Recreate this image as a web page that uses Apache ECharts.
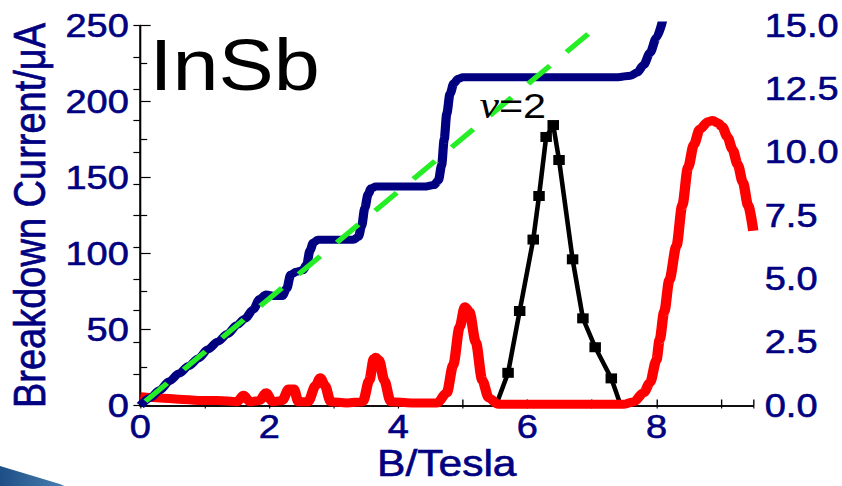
<!DOCTYPE html>
<html>
<head>
<meta charset="utf-8">
<script src="https://cdn.jsdelivr.net/npm/echarts@6/dist/echarts.min.js"></script>
<style>
  html, body { margin: 0; padding: 0; background: #fff; overflow: hidden; }
  #wrap { width: 842px; height: 486px; overflow: hidden; position: relative; }
  /* the figure is drawn on a narrower canvas and widened, giving the wide lettering */
  #chart { width: 732px; height: 486px; transform: scaleX(1.15); transform-origin: 0 0; }
</style>
</head>
<body>
<div id="wrap"><div id="chart"></div></div>
<script>
// Breakdown current (left axis, µA) against magnetic field B (T)
const blueB = [0, 0.15, 0.3, 0.45, 0.6, 0.75, 0.9, 1.05, 1.2, 1.35, 1.5, 1.62, 1.75, 1.85, 1.95, 2.1, 2.2, 2.27, 2.33, 2.42, 2.52, 2.58, 2.63, 2.68, 2.75, 2.9, 3.1, 3.3, 3.38, 3.43, 3.48, 3.53, 3.58, 3.65, 3.8, 4.0, 4.2, 4.4, 4.55, 4.62, 4.67, 4.71, 4.75, 4.8, 4.86, 4.93, 5.0, 5.2, 5.6, 6.0, 6.5, 7.0, 7.4, 7.6, 7.7, 7.8, 7.9, 8.0, 8.1];
const blueI = [0, 5, 10, 16, 21, 26, 31, 37, 42, 47, 53, 57, 63, 70, 73, 72, 72, 77, 86, 88, 89, 93, 102, 107, 109, 109, 109, 109, 111, 118, 130, 139, 143, 144, 144, 144, 144, 144, 145, 148, 158, 175, 192, 205, 212, 215, 216, 216, 216, 216, 216, 216, 216, 217, 219, 224, 232, 242, 254];

// Linear reference line (left axis)
const greenB = [0.08, 7.1];
const greenI = [2.8, 250];

// Longitudinal signal (right axis)
const redB = [0, 0.3, 0.6, 0.9, 1.2, 1.5, 1.6, 1.7, 1.85, 1.95, 2.05, 2.2, 2.3, 2.38, 2.45, 2.6, 2.72, 2.79, 2.86, 2.95, 3.2, 3.45, 3.55, 3.62, 3.65, 3.7, 3.78, 3.88, 4.2, 4.6, 4.75, 4.85, 4.95, 5.03, 5.1, 5.2, 5.3, 5.4, 5.55, 6.0, 6.5, 7.0, 7.5, 7.65, 7.8, 7.9, 8.0, 8.05, 8.12, 8.2, 8.31, 8.4, 8.49, 8.58, 8.67, 8.8, 8.87, 8.95, 9.02, 9.1, 9.18, 9.26, 9.34, 9.42, 9.5];
const redV = [0.35, 0.3, 0.25, 0.2, 0.2, 0.15, 0.4, 0.15, 0.2, 0.5, 0.15, 0.2, 0.65, 0.65, 0.15, 0.15, 0.8, 1.1, 0.8, 0.15, 0.1, 0.15, 1.0, 1.85, 1.9, 1.8, 1.0, 0.15, 0.1, 0.1, 0.5, 1.6, 3.1, 3.9, 3.7, 2.5, 1.0, 0.3, 0.05, 0.05, 0.05, 0.05, 0.05, 0.15, 0.5, 0.9, 1.8, 2.6, 3.7, 4.95, 6.3, 7.9, 9.4, 10.3, 10.9, 11.2, 11.25, 11.15, 11.0, 10.6, 10.1, 9.5, 8.8, 7.9, 6.9];

// Measured points with square markers (right axis)
const blackB = [5.52, 5.70, 5.88, 6.09, 6.18, 6.29, 6.40, 6.49, 6.70, 6.86, 7.05, 7.30, 7.44];
const blackV = [0.05, 1.29, 3.73, 6.55, 8.27, 10.6, 11.07, 9.69, 5.77, 3.44, 2.30, 1.07, 0.05];

const xTicks = ['0', '2', '4', '6', '8'];

const NAVY = '#000080';
const FONT = '"Liberation Sans", Arial, sans-serif';

const zip = (xs, ys) => xs.map((x, i) => [x, ys[i]]);

const chart = echarts.init(document.getElementById('chart'), null, { renderer: 'svg' });

const axisLine = { show: true, lineStyle: { color: '#000', width: 1.5 } };
const labelStyle = { fontSize: 33, color: NAVY, fontFamily: FONT, textBorderColor: NAVY, textBorderWidth: 0.6 };

chart.setOption({
  backgroundColor: '#fff',
  animation: false,
  grid: { left: 122, right: 77, top: 25.5, bottom: 80.5, containLabel: false, outerBoundsMode: 'none' },
  xAxis: [
    {
      type: 'value', position: 'bottom', min: 0, max: 9.5, interval: 1,
      axisLine: axisLine,
      axisTick: { show: true, inside: true, length: 6, lineStyle: { color: '#000', width: 1.2 } },
      splitLine: { show: false },
      axisLabel: Object.assign({
        margin: 5,
        formatter: v => (xTicks.includes(String(v)) ? String(v) : '')
      }, labelStyle),
      name: 'B/Tesla', nameLocation: 'middle', nameGap: 39, nameMoveOverlap: false,
      nameTextStyle: { fontSize: 37, lineHeight: 36, color: NAVY, fontFamily: FONT, textBorderColor: NAVY, textBorderWidth: 0.6 }
    },
    {
      type: 'value', position: 'top', min: 0, max: 9.5, interval: 1,
      axisLine: axisLine,
      axisTick: { show: true, inside: true, length: 3, lineStyle: { color: '#000', width: 1 } },
      axisLabel: { show: false },
      splitLine: { show: false }
    }
  ],
  yAxis: [
    {
      type: 'value', position: 'left', min: 0, max: 250, interval: 50,
      axisLine: axisLine,
      axisTick: { show: true, inside: true, length: 9, lineStyle: { color: '#000', width: 1.2 } },
      minorTick: { show: true, splitNumber: 2, length: 6, lineStyle: { color: '#000', width: 1.2 } },
      splitLine: { show: false },
      axisLabel: Object.assign({ margin: 10 }, labelStyle),
      name: 'Breakdown Current/\u03bcA', nameLocation: 'middle', nameGap: 70,
      nameTextStyle: { fontSize: 38, color: NAVY, fontFamily: FONT, textBorderColor: NAVY, textBorderWidth: 0.6 }
    },
    {
      type: 'value', position: 'right', min: 0, max: 15, interval: 2.5,
      axisLine: axisLine,
      axisTick: { show: true, inside: true, length: 6, lineStyle: { color: '#000', width: 1.2 } },
      minorTick: { show: true, splitNumber: 2, length: 6, lineStyle: { color: '#000', width: 1.2 } },
      splitLine: { show: false },
      axisLabel: Object.assign({ margin: 10, formatter: v => v.toFixed(1) }, labelStyle)
    }
  ],
  series: [
    {
      name: 'markers', type: 'line', xAxisIndex: 0, yAxisIndex: 1, z: 2,
      data: zip(blackB, blackV),
      symbol: 'rect',
      symbolSize: (v, p) => (p.dataIndex === 0 || p.dataIndex === blackB.length - 1 ? 0 : 10),
      itemStyle: { color: '#000' },
      lineStyle: { color: '#000', width: 4 }
    },
    {
      name: 'signal', type: 'line', xAxisIndex: 0, yAxisIndex: 1, z: 3,
      data: zip(redB, redV), showSymbol: false, symbol: 'none',
      smooth: 0.3, smoothMonotone: 'x',
      lineStyle: { color: '#ff0000', width: 9 }
    },
    {
      name: 'current', type: 'line', xAxisIndex: 0, yAxisIndex: 0, z: 4,
      data: zip(blueB, blueI), showSymbol: false, symbol: 'none',
      smooth: 0.3, smoothMonotone: 'x', clip: true,
      lineStyle: { color: NAVY, width: 8 }
    },
    {
      name: 'linear', type: 'line', xAxisIndex: 0, yAxisIndex: 0, z: 5,
      data: zip(greenB, greenI), showSymbol: false, symbol: 'none',
      lineStyle: { color: '#26ee26', width: 5, type: [26, 20] }
    }
  ],
  graphic: [
    {
      type: 'text', left: 130, top: 29, z: 10,
      style: { text: 'InSb', fontSize: 72, fontFamily: FONT, fill: '#000' }
    },
    {
      type: 'text', left: 417, top: 86, z: 10,
      style: {
        text: '{nu|\u03bd}=2', fontSize: 36, fontFamily: FONT, fill: '#000',
        rich: { nu: { fontSize: 38, fontFamily: '"Liberation Serif", serif', fontStyle: 'italic', fill: '#000' } }
      }
    },
    {
      type: 'polygon', z: 0,
      shape: { points: [[0, 466], [52, 484], [56, 486], [0, 486]] },
      style: {
        fill: new echarts.graphic.LinearGradient(0, 0, 1, 0, [
          { offset: 0, color: '#1d4f86' }, { offset: 1, color: '#4a7fb0' }
        ])
      }
    }
  ]
});
</script>
</body>
</html>
